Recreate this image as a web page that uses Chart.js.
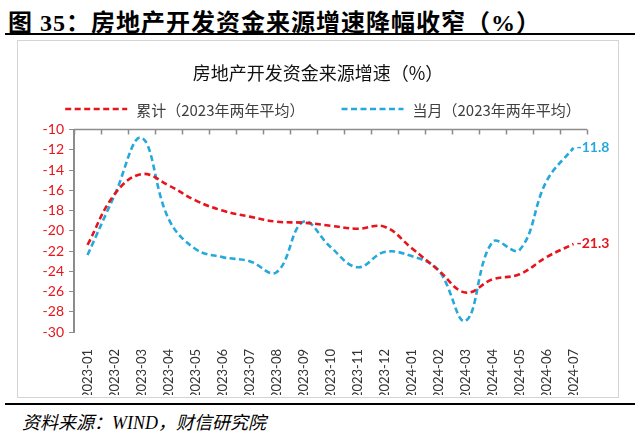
<!DOCTYPE html>
<html>
<head>
<meta charset="utf-8">
<script src="https://cdn.jsdelivr.net/npm/chart.js@4.4.1/dist/chart.umd.min.js"></script>
<style>
    html, body { margin: 0; padding: 0; background: #fff; }
    body { width: 640px; height: 440px; position: relative; overflow: hidden; }
    .fig-title {
        position: absolute; left: 8px; top: 3px;
        font: bold 24px "Liberation Serif", "Noto Sans CJK SC", serif;
        color: #000; white-space: nowrap; letter-spacing: 1px;
    }
    .rule { position: absolute; left: 5px; width: 630px; height: 2px; background: #000; }
    .box {
        position: absolute; left: 17px; top: 40px; width: 602px; height: 358px;
        border: 1px solid #d4d4d4; box-sizing: border-box;
    }
    .box canvas { position: absolute; left: 0; top: 0; }
    .source {
        position: absolute; left: 22px; top: 408px;
        font: italic 18px "Liberation Serif", "Noto Sans CJK SC", serif;
        color: #000; white-space: nowrap;
    }
</style>
</head>
<body>
<div class="fig-title">图 35：房地产开发资金来源增速降幅收窄（%）</div>
<div class="rule" style="top:33px"></div>
<div class="box"><canvas id="chartFunds" width="600" height="356"></canvas></div>
<div class="rule" style="top:403px"></div>
<div class="source">资料来源：WIND，财信研究院</div>

<script>
// ==================================================
// DATA
// ==================================================
const months = [
    '2023-01', '2023-02', '2023-03', '2023-04', '2023-05', '2023-06', '2023-07',
    '2023-08', '2023-09', '2023-10', '2023-11', '2023-12',
    '2024-01', '2024-02', '2024-03', '2024-04', '2024-05', '2024-06', '2024-07',
];
// 累计（2023年两年平均）
const cumulative = [-21.4, -16.4, -14.4, -15.5, -17.0, -18.0, -18.6, -19.1, -19.2, -19.5,
    -19.8, -19.6, -21.7, -23.9, -26.1, -24.8, -24.3, -22.6, -21.3];
// 当月（2023年两年平均）
const monthly = [-22.4, -16.5, -10.8, -18.8, -21.8, -22.6, -23.0, -24.1, -19.1, -21.6,
    -23.6, -22.1, -22.5, -23.9, -28.9, -21.1, -21.9, -15.1, -11.8];
const yTicks = [-30, -28, -26, -24, -22, -20, -18, -16, -14, -12, -10];

const RED = '#e8141c';
const BLUE = '#25a8dc';
const AXIS = '#8c8c8c';
const DASH = [6, 3.5];

Chart.defaults.font.family = 'Lato, "Noto Sans CJK SC", sans-serif';

// ==================================================
// PLUGINS
// ==================================================
// x axis sits at -10 (top) with tick marks pointing into the plot
const topAxisPlugin = {
    id: 'topAxis',
    afterDraw(chart) {
        const { ctx, chartArea } = chart;
        const step = (chartArea.right - chartArea.left) / months.length;
        ctx.save();
        ctx.strokeStyle = AXIS;
        ctx.lineWidth = 1.5;
        ctx.beginPath();
        ctx.moveTo(chartArea.left, chartArea.top);
        ctx.lineTo(chartArea.right, chartArea.top);
        for (let i = 0; i <= months.length; i++) {
            const px = Math.round(chart.scales.x.getPixelForValue(i) - step / 2) + 0.5;
            ctx.moveTo(px, chartArea.top);
            ctx.lineTo(px, chartArea.top + 5);
        }
        ctx.stroke();
        ctx.restore();
    },
};

// one-row legend with dashed line samples
const lineLegendPlugin = {
    id: 'lineLegend',
    afterDraw(chart) {
        const { ctx } = chart;
        const sample = 62, gapText = 9, gapItem = 37, cy = 68;
        ctx.save();
        ctx.font = '15px "Noto Sans CJK SC", sans-serif';
        ctx.textBaseline = 'middle';
        const items = chart.data.datasets.map(ds => ({ ds, w: ctx.measureText(ds.label).width }));
        const total = items.reduce((a, it) => a + sample + gapText + it.w, 0) + gapItem * (items.length - 1);
        let x = 305 - total / 2;
        items.forEach(({ ds, w }) => {
            ctx.strokeStyle = ds.borderColor;
            ctx.lineWidth = ds.borderWidth;
            ctx.setLineDash(ds.borderDash);
            ctx.beginPath();
            ctx.moveTo(x, cy);
            ctx.lineTo(x + sample, cy);
            ctx.stroke();
            ctx.setLineDash([]);
            ctx.fillStyle = '#404040';
            ctx.fillText(ds.label, x + sample + gapText, cy + 1);
            x += sample + gapText + w + gapItem;
        });
        ctx.restore();
    },
};

// value labels at the end of each line
const endLabelPlugin = {
    id: 'endLabels',
    afterDatasetsDraw(chart) {
        const { ctx } = chart;
        ctx.save();
        ctx.font = 'bold 14px Lato, sans-serif';
        ctx.textBaseline = 'middle';
        chart.data.datasets.forEach((ds, i) => {
            const meta = chart.getDatasetMeta(i);
            const last = meta.data[meta.data.length - 1];
            ctx.fillStyle = ds.borderColor;
            ctx.fillText(ds.data[ds.data.length - 1].toFixed(1), last.x + 3, last.y);
        });
        ctx.restore();
    },
};

// ==================================================
// CHART
// ==================================================
new Chart(document.getElementById('chartFunds'), {
    type: 'line',
    data: {
        labels: months,
        datasets: [
            { label: '累计（2023年两年平均）', data: cumulative, borderColor: RED, backgroundColor: RED,
              borderWidth: 2.6, borderDash: DASH, pointRadius: 0, tension: 0.4 },
            { label: '当月（2023年两年平均）', data: monthly, borderColor: BLUE, backgroundColor: BLUE,
              borderWidth: 2.6, borderDash: DASH, pointRadius: 0, tension: 0.4 },
        ],
    },
    options: {
        responsive: false, animation: false,
        layout: { padding: { top: 0, right: 0, bottom: 2, left: 0 } },
        plugins: {
            title: {
                display: true, text: '房地产开发资金来源增速（%）', color: '#111',
                font: { family: '"Noto Sans CJK SC", sans-serif', size: 18, weight: 'normal' },
                padding: { top: 21, bottom: 46 },
            },
            legend: { display: false },
            tooltip: { enabled: false },
        },
        scales: {
            x: {
                offset: true,
                border: { display: false },
                grid: { display: false },
                ticks: { color: '#333', font: { size: 13 }, minRotation: 90, maxRotation: 90, padding: 9, autoSkip: false },
                afterFit: s => { s.height = 63; },
            },
            y: {
                min: -30, max: -10,
                afterBuildTicks: s => { s.ticks = yTicks.map(v => ({ value: v })); },
                border: { color: AXIS, width: 2 },
                grid: { drawOnChartArea: false, color: AXIS, tickLength: 5 },
                ticks: { color: RED, font: { size: 14 }, padding: 5, autoSkip: false },
                afterFit: s => { s.width = 56; },
            },
            // empty right margin for the end labels
            yRight: {
                position: 'right', display: true,
                border: { display: false }, grid: { display: false }, ticks: { display: false },
                afterFit: s => { s.width = 31; },
            },
        },
    },
    plugins: [topAxisPlugin, lineLegendPlugin, endLabelPlugin],
});
</script>
</body>
</html>
